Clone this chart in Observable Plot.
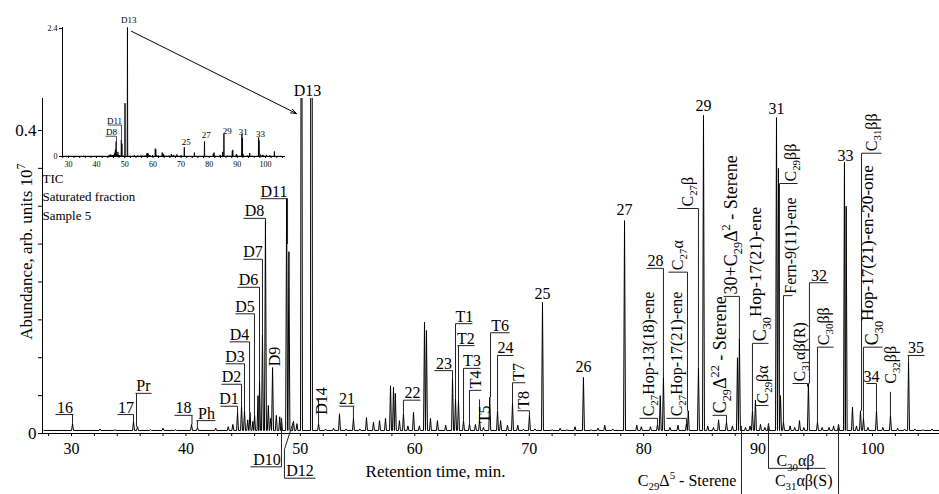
<!DOCTYPE html>
<html><head><meta charset="utf-8">
<script src="https://cdn.jsdelivr.net/npm/d3@7"></script>
<script src="https://cdn.jsdelivr.net/npm/@observablehq/plot@0.6"></script>
<style>
html,body{margin:0;padding:0;background:#fff;}
#wrap{position:relative;width:939px;height:494px;}
#wrap svg{position:absolute;left:0;top:0;overflow:visible;}
</style></head><body><div id="wrap"></div>
<script>
// ---- chromatogram peaks: retention time (min) and abundance (arb. units 1e7)
const peakTime = [30.09,32.5,33.8,35.42,35.77,36.9,38.0,39.1,40.49,41.01,42.6,43.7,44.1,44.51,44.86,45.12,45.4,45.6,45.85,46.0,46.3,46.43,46.69,46.95,47.2,47.4,47.57,47.9,48.2,48.35,48.8,49.0,49.4,49.7,50.1,50.97,51.59,52.2,52.9,53.42,54.0,54.64,55.2,55.78,56.39,56.92,57.44,57.88,58.14,58.3,58.66,59.01,59.4,59.89,60.4,60.85,61.02,61.37,61.98,62.7,63.3,63.56,63.82,64.26,64.78,65.3,65.66,66.0,66.55,67.23,67.5,68.1,68.54,69.0,69.5,70.02,70.5,71.16,72.0,72.7,73.3,74.0,74.74,75.4,76.0,76.6,77.3,78.33,79.4,79.8,80.6,81.21,81.45,81.73,82.3,83.0,83.74,83.9,84.79,85.23,85.6,86.1,86.55,87.24,87.76,88.2,88.37,88.9,89.3,89.51,89.77,90.21,90.6,90.91,91.61,91.78,91.96,92.22,92.8,93.2,93.62,94.0,94.4,95.19,95.6,96.2,96.6,97.03,97.55,97.7,98.25,98.6,98.95,99.21,99.6,100.35,100.9,101.57,102.2,102.8,103.15,103.7,104.4,105.2];
const peakHeight = [0.013,0.006,0.005,0.016,0.009,0.005,0.007,0.005,0.012,0.008,0.007,0.009,0.012,0.028,0.036,0.030,0.018,0.028,0.016,0.024,0.05,0.07,0.13,0.28,0.037,0.02,0.087,0.024,0.022,0.02,0.31,0.24,0.016,0.013,1.0,2.42,0.013,0.006,0.007,0.026,0.006,0.020,0.006,0.021,0.015,0.017,0.020,0.063,0.061,0.053,0.017,0.026,0.01,0.028,0.01,0.147,0.136,0.020,0.017,0.011,0.073,0.046,0.044,0.017,0.013,0.012,0.017,0.008,0.048,0.030,0.017,0.011,0.040,0.011,0.006,0.024,0.006,0.173,0.005,0.007,0.005,0.009,0.074,0.005,0.007,0.011,0.006,0.281,0.011,0.009,0.009,0.012,0.05,0.074,0.008,0.011,0.013,0.03,0.087,0.42,0.01,0.008,0.018,0.015,0.010,0.10,0.125,0.008,0.01,0.03,0.044,0.012,0.008,0.013,0.417,0.35,0.05,0.015,0.01,0.008,0.017,0.008,0.066,0.015,0.008,0.008,0.01,0.012,0.358,0.30,0.035,0.01,0.03,0.02,0.008,0.03,0.008,0.024,0.007,0.006,0.094,0.006,0.005,0.006];
const baselineLevel = [0.004];

// ---- axes
const xTickValues = d3.range(28, 106, 2);
const xTickLabels = [30,40,50,60,70,80,90,100];
const yTickValues = [0,0.05,0.1,0.15,0.2,0.25,0.3,0.35,0.4];
const yTickLabels = [0,0.4];

// ---- labels with underline (text, time, value)
const hLabels = [["16",29.43,0.025],["17",34.76,0.025],["Pr",36.29,0.053],["18",39.79,0.024],["Ph",41.80,0.017],["D1",43.76,0.036],["D2",43.98,0.065],["D3",44.29,0.092],["D4",44.68,0.121],["D5",45.16,0.158],["D6",45.47,0.193],["D7",45.86,0.230],["D8",45.99,0.284],["D11",47.70,0.310],["21",54.08,0.036],["22",59.80,0.044],["23",62.55,0.083],["T1",64.34,0.145],["T2",64.47,0.116],["T3",65.0,0.086],["T6",67.45,0.133],["24",67.93,0.103],["28",81.03,0.218],["32",95.32,0.199],["34",99.91,0.066],["35",103.80,0.103],["D10",47.08,-0.044],["D12",49.97,-0.059],["C_{30}αβ",93.27,-0.046]];
// peak labels without underline (text, time, value of baseline)
const peakLabels = [["D13",50.62,0.446],["25",71.16,0.178],["26",74.74,0.081],["27",78.33,0.288],["29",85.23,0.426],["31",91.61,0.422],["33",97.64,0.360]];
// rotated labels (text, time, value where text starts)
const rLabels = [["D9",47.74,0.086],["D14",51.85,0.022],["T4",65.31,0.057],["T5",66.09,0.011],["T7",69.06,0.067],["T8",69.50,0.030],["C_{27}Hop-13(18)-ene",80.42,0.020],["C_{27}Hop-17(21)-ene",82.87,0.020],["C_{27}α",82.96,0.213],["C_{27}β",83.83,0.297],["C_{29}βα",90.38,0.037],["C_{29}ββ",92.83,0.330],["Fern-9(11)-ene",92.83,0.182],["C_{31}αβ(R)",93.62,0.066],["C_{30}ββ",95.72,0.114],["C_{31}ββ",99.91,0.370],["C_{32}ββ",101.57,0.063]];
// larger rotated labels (text, time, value where text starts)
const rLabelsLarge = [["C_{29}Δ^{22} - Sterene",86.72,0.024],["30+C_{29}Δ^{2} - Sterene",87.68,0.181],["C_{30}~{Hop-17(21)-ene}",90.21,0.119],["C_{30}~{Hop-17(21)-en-20-one}",100.0,0.114]];
// labels below the axis, right-aligned at their leader (text, time, value)
const belowLabels = [["C_{29}Δ^{5} - Sterene",88.37,-0.069],["C_{31}αβ(S)",96.77,-0.069]];
// underline segments (t1, t2, value)
const underlines = [[28.60,30.17,0.025],[34.02,35.42,0.025],[35.59,36.99,0.053],[39.00,40.57,0.024],[40.92,42.58,0.017],[43.02,44.51,0.036],[43.11,44.86,0.065],[43.46,45.12,0.092],[43.81,45.56,0.121],[44.33,45.99,0.158],[44.51,46.43,0.193],[45.03,46.69,0.230],[45.03,46.95,0.284],[46.52,48.88,0.310],[53.42,54.73,0.036],[59.01,60.50,0.044],[61.72,63.30,0.083],[63.56,65.04,0.145],[63.73,65.22,0.116],[64.26,65.74,0.086],[66.62,68.28,0.133],[67.23,68.63,0.103],[80.25,81.73,0.218],[94.49,96.15,0.199],[99.47,100.35,0.066],[103.06,104.54,0.103],[45.64,48.35,-0.044],[48.61,51.32,-0.059],[90.91,95.89,-0.046],
 [64.78,65.83,0.057],[68.54,69.67,0.067],[68.98,70.02,0.030],[79.64,81.21,0.020],[81.99,83.74,0.020],[82.17,83.83,0.213],[82.96,84.79,0.297],[86.02,87.24,0.024],[86.98,88.37,0.181],[89.51,90.91,0.119],[89.77,90.91,0.037],[91.87,93.45,0.330],[92.22,93.01,0.182],[93.01,94.32,0.066],[95.19,96.59,0.114],[99.21,100.87,0.114],[99.04,100.79,0.370]];
// leader segments (t1, v1, t2, v2)
const leaders = [[30.09,0.025,30.09,0.013],[35.42,0.025,35.42,0.016],[35.68,0.053,35.68,0.009],[40.53,0.024,40.53,0.012],[41.0,0.017,41.0,0.008],[44.51,0.036,44.51,0.028],[44.86,0.065,44.86,0.036],[45.12,0.092,45.12,0.030],[45.56,0.121,45.56,0.028],[45.99,0.158,45.99,0.024],[46.43,0.193,46.43,0.07],[46.69,0.230,46.69,0.13],[46.95,0.284,46.95,0.28],[48.88,0.310,48.88,0.25],[54.64,0.036,54.64,0.020],[59.01,0.044,59.01,0.026],[63.30,0.083,63.30,0.073],[63.56,0.145,63.56,0.046],[63.82,0.116,63.82,0.044],[64.26,0.086,64.26,0.017],[66.62,0.133,66.62,0.048],[67.23,0.103,67.23,0.030],[81.73,0.218,81.73,0.074],[94.49,0.199,94.49,0.066],[100.35,0.066,100.35,0.030],[103.15,0.103,103.15,0.094],
 [48.35,-0.044,48.35,0.018],[48.61,-0.059,48.61,-0.021],[48.61,-0.021,49.40,0.016],[90.91,-0.046,90.91,0.013],[88.55,-0.081,88.55,0.010],[97.03,-0.081,97.03,0.012],
 [51.59,0.045,51.59,0.013],[64.78,0.057,64.78,0.013],[65.66,0.045,65.66,0.017],[68.54,0.067,68.54,0.040],[70.02,0.030,70.02,0.024],[81.21,0.020,81.21,0.012],[83.74,0.020,83.74,0.013],[83.83,0.213,83.83,0.03],[84.79,0.297,84.79,0.087],[87.24,0.024,87.24,0.015],[88.37,0.181,88.37,0.125],[89.51,0.119,89.51,0.03],[91.87,0.330,91.87,0.05],[92.22,0.182,92.22,0.015],[94.32,0.066,94.32,0.062],[95.19,0.114,95.19,0.015],[99.21,0.114,99.21,0.02],[99.04,0.370,99.04,0.03],[101.57,0.055,101.57,0.024]];
// arrow from the inset to D13 (t1, v1, t2, v2)
const arrowLink = [[35.24,0.531,49.66,0.4224]];
const sampleText = ["TIC\nSaturated fraction\nSample 5"];
const xTitle = ["Retention time, min."];
const yTitle = ["Abundance, arb. units 10^{7}"];

// ---- inset (full scale view)
const insetTickLabels = [30,40,50,60,70,80,90,100];
const insetYLabels = [0,2.4];
const insetLabels = [["D13",51.45,2.51],["D11",46.37,0.613],["D8",45.3,0.407],["25",71.83,0.225],["27",78.94,0.34],["29",86.39,0.43],["31",92.08,0.41],["33",98.22,0.375]];
const insetUnderlines = [[44.0,48.85,0.59],[43.17,47.08,0.38]];
const insetLeaders = [[48.85,0.59,48.85,0.26],[47.08,0.38,47.08,0.2]];

// trace built from the peak table
const half = 0.085;
const trace = [{t:27.6,v:baselineLevel[0]}]
  .concat(peakTime.flatMap((t,i)=>[{t:t-half,v:baselineLevel[0]},{t,v:peakHeight[i]},{t:t+half,v:baselineLevel[0]}]))
  .concat([{t:105.8,v:baselineLevel[0]}])
  .sort((a,b)=>a.t-b.t);

const FONT = "'Liberation Serif','Times New Roman',serif";
const xDom = [27.466, 105.855];
const yDom = [0, 0.44224];
const LC = "#222";

const main = Plot.plot({
  width: 939, height: 494,
  marginLeft: 42, marginRight: 0, marginTop: 98, marginBottom: 61,
  style: {fontFamily: FONT, background: "transparent", overflow: "visible"},
  x: {domain: xDom},
  y: {domain: yDom},
  marks: [
    Plot.axisX({ticks: xTickValues, tickFormat: d => xTickLabels.includes(d) ? String(d) : "", tickSize: 3, tickPadding: 6, fontSize: 16, label: null, stroke: "black", fontFamily: FONT}),
    Plot.axisY({ticks: yTickValues, tickFormat: d => yTickLabels.some(v => Math.abs(v-d) < 1e-9) ? String(+d.toFixed(2)) : "", tickSize: 4, tickPadding: 2, fontSize: 17, label: null, stroke: "black", fontFamily: FONT}),
    Plot.ruleX([xDom[0]], {stroke: "black", strokeWidth: 1}),
    Plot.ruleY([0], {stroke: "black", strokeWidth: 1}),
    Plot.line(trace, {x: "t", y: "v", stroke: "black", strokeWidth: 1, clip: true}),
    Plot.link(underlines, {x1: d=>d[0], x2: d=>d[1], y1: d=>d[2], y2: d=>d[2], stroke: LC, strokeWidth: 1}),
    Plot.link(leaders, {x1: d=>d[0], y1: d=>d[1], x2: d=>d[2], y2: d=>d[3], stroke: LC, strokeWidth: 1}),
    Plot.text(hLabels, {x: d=>d[1], y: d=>d[2], text: d=>d[0], fontSize: 16, lineAnchor: "bottom", dy: -2, fill: "black"}),
    Plot.text(peakLabels, {x: d=>d[1], y: d=>d[2], text: d=>d[0], fontSize: 16, lineAnchor: "bottom", fill: "black"}),
    Plot.text(rLabels, {x: d=>d[1], y: d=>d[2], text: d=>d[0], fontSize: 16, rotate: -90, textAnchor: "start", lineAnchor: "middle", dy: -2, fill: "black"}),
    Plot.text(rLabelsLarge, {x: d=>d[1], y: d=>d[2], text: d=>d[0], fontSize: 18, rotate: -90, textAnchor: "start", lineAnchor: "middle", dy: -2, fill: "black"}),
    Plot.text(belowLabels, {x: d=>d[1], y: d=>d[2], text: d=>d[0], fontSize: 16, textAnchor: "end", lineAnchor: "bottom", dx: -3, fill: "black"}),
    Plot.text(sampleText, {x: xDom[0], y: 0.3485, text: d=>d, fontSize: 13, textAnchor: "start", lineAnchor: "top", lineHeight: 1.42, fill: "black"}),
    Plot.text(xTitle, {x: 61.81, y: -0.0568, text: d=>d, fontSize: 17, lineAnchor: "bottom", fill: "black"}),
    Plot.text(yTitle, {x: 26.07, y: 0.24, text: d=>d, fontSize: 17, rotate: -90, lineAnchor: "middle", fill: "black"}),
    Plot.arrow(arrowLink, {x1: d=>d[0], y1: d=>d[1], x2: d=>d[2], y2: d=>d[3], stroke: "black", strokeWidth: 1, headLength: 9, headAngle: 40})
  ]
});

const inset = Plot.plot({
  width: 300, height: 180,
  marginLeft: 62, marginRight: 15, marginTop: 27, marginBottom: 24,
  style: {fontFamily: FONT, background: "transparent", overflow: "visible"},
  x: {domain: [27.9, 107.1]},
  y: {domain: [0, 2.42]},
  marks: [
    Plot.axisX({ticks: d3.range(28, 108, 2), tickFormat: d => insetTickLabels.includes(d) ? String(d) : "", tickSize: 2, tickPadding: 3, fontSize: 8, label: null, stroke: "black", fontFamily: FONT}),
    Plot.axisY({ticks: insetYLabels, tickFormat: d => String(d), tickSize: 3, tickPadding: 2, fontSize: 8, label: null, stroke: "black", fontFamily: FONT}),
    Plot.ruleX([27.9], {stroke: "black", strokeWidth: 1}),
    Plot.ruleY([0], {stroke: "black", strokeWidth: 1}),
    Plot.line(trace, {x: "t", y: "v", stroke: "black", strokeWidth: 0.9, clip: true}),
    Plot.link(insetUnderlines, {x1: d=>d[0], x2: d=>d[1], y1: d=>d[2], y2: d=>d[2], stroke: LC, strokeWidth: 0.8}),
    Plot.link(insetLeaders, {x1: d=>d[0], y1: d=>d[1], x2: d=>d[2], y2: d=>d[3], stroke: LC, strokeWidth: 0.8}),
    Plot.text(insetLabels, {x: d=>d[1], y: d=>d[2], text: d=>d[0], fontSize: 9, lineAnchor: "bottom", fill: "black"})
  ]
});

const wrap = document.getElementById("wrap");
wrap.appendChild(main);
wrap.appendChild(inset);

// rich text: _{sub}  ^{sup}  ~{raised}
function rich(svg){
  svg.querySelectorAll("text").forEach(el => {
    if (el.children.length) return;
    const s = el.textContent;
    if (!/[_^~]\{/.test(s)) return;
    const fs = parseFloat(getComputedStyle(el).fontSize) || 16;
    el.textContent = "";
    const re = /([_^~])\{([^}]*)\}|([^_^~]+)/g;
    let m, cur = 0;
    while ((m = re.exec(s))) {
      const ts = document.createElementNS("http://www.w3.org/2000/svg", "tspan");
      let target = 0, size = null;
      if (m[1] === "_") { target = 0.28*fs; size = 0.68*fs; ts.textContent = m[2]; }
      else if (m[1] === "^") { target = -0.42*fs; size = 0.68*fs; ts.textContent = m[2]; }
      else if (m[1] === "~") { target = -0.3*fs; size = 0.95*fs; ts.textContent = m[2]; }
      else { ts.textContent = m[3]; }
      if (size) ts.setAttribute("font-size", size);
      if (target !== cur) ts.setAttribute("dy", target - cur);
      cur = target;
      el.appendChild(ts);
    }
  });
}
rich(main);
rich(inset);
</script>
</body></html>
